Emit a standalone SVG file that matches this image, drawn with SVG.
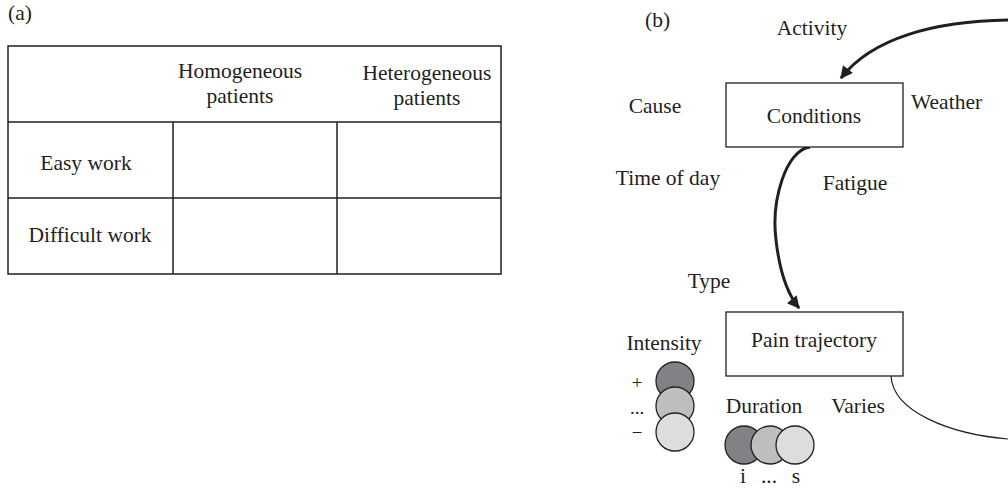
<svg xmlns="http://www.w3.org/2000/svg" width="1008" height="492" viewBox="0 0 1008 492">
  <style>
    text { font-family: "Liberation Serif", "DejaVu Serif", serif; font-size: 21.5px; fill: #231f20; }
    .mid { text-anchor: middle; }
    .box { fill: #ffffff; stroke: #231f20; stroke-width: 1.3; }
    .grid { fill: none; stroke: #231f20; stroke-width: 1.5; }
    .flow { fill: none; stroke: #231f20; stroke-width: 3; }
    .thin { fill: none; stroke: #231f20; stroke-width: 1.2; }
    .dot { stroke: #231f20; stroke-width: 1.3; }
    .dark { fill: #808285; }
    .midg { fill: #bcbec0; }
    .light { fill: #dcdddf; }
    .sign { font-size: 19px; }
  </style>
  <defs>
    <marker id="head" viewBox="0 0 10 10" refX="9" refY="5" markerWidth="4.5" markerHeight="4.2" orient="auto" markerUnits="strokeWidth">
      <path d="M0,0 L10,5 L0,10 Z" fill="#231f20"/>
    </marker>
  </defs>
  <rect width="1008" height="492" fill="#ffffff"/>

  <!-- Panel (a): 2x2 work/patient table -->
  <g id="panel-a">
    <text x="8" y="20">(a)</text>
    <g id="table">
      <rect class="grid" x="8" y="46" width="493" height="228"/>
      <line class="grid" x1="8" y1="122" x2="501" y2="122"/>
      <line class="grid" x1="8" y1="198" x2="501" y2="198"/>
      <line class="grid" x1="173" y1="122" x2="173" y2="274"/>
      <line class="grid" x1="337" y1="122" x2="337" y2="274"/>
      <text class="mid" x="240" y="78">Homogeneous</text>
      <text class="mid" x="240" y="103">patients</text>
      <text class="mid" x="427" y="80">Heterogeneous</text>
      <text class="mid" x="427" y="105">patients</text>
      <text class="mid" x="86" y="170">Easy work</text>
      <text class="mid" x="90" y="242">Difficult work</text>
    </g>
  </g>

  <!-- Panel (b): conditions and pain trajectory -->
  <text x="645" y="27">(b)</text>

  <g id="connectors">
    <path class="flow" d="M1008,20 C935,21 872,38 841,78" marker-end="url(#head)"/>
    <path class="flow" d="M810,147 C786,150 771,200 776,240 C780,275 789,296 799,308" marker-end="url(#head)"/>
    <path class="thin" d="M891,376 C893,412 950,434 1008,439"/>
  </g>

  <g id="conditions">
    <rect class="box" x="726" y="83" width="177" height="64"/>
    <text class="mid" x="814" y="123">Conditions</text>
  </g>
  <g id="condition-labels">
    <text class="mid" x="812" y="35">Activity</text>
    <text class="mid" x="655" y="113">Cause</text>
    <text x="911" y="109">Weather</text>
    <text class="mid" x="668" y="185">Time of day</text>
    <text class="mid" x="855" y="190">Fatigue</text>
  </g>

  <g id="pain-trajectory">
    <rect class="box" x="726" y="312" width="177" height="64"/>
    <text class="mid" x="814" y="347">Pain trajectory</text>
  </g>
  <g id="trajectory-labels">
    <text class="mid" x="709" y="288">Type</text>
    <text class="mid" x="664" y="350">Intensity</text>
    <text class="mid" x="764" y="413">Duration</text>
    <text class="mid" x="858" y="413">Varies</text>
  </g>

  <g id="intensity-scale">
    <circle class="dot dark" cx="675" cy="381" r="19"/>
    <circle class="dot midg" cx="675" cy="406" r="19"/>
    <circle class="dot light" cx="675" cy="432" r="19"/>
    <text class="mid sign" x="637" y="389">+</text>
    <text class="mid sign" x="637" y="414">...</text>
    <text class="mid sign" x="637" y="439">−</text>
  </g>

  <g id="duration-scale">
    <circle class="dot dark" cx="744" cy="445" r="19"/>
    <circle class="dot midg" cx="770" cy="445" r="19"/>
    <circle class="dot light" cx="795" cy="445" r="19"/>
    <text class="mid" x="743" y="483">i</text>
    <text class="mid" x="769" y="483">...</text>
    <text class="mid" x="796" y="483">s</text>
  </g>
</svg>
